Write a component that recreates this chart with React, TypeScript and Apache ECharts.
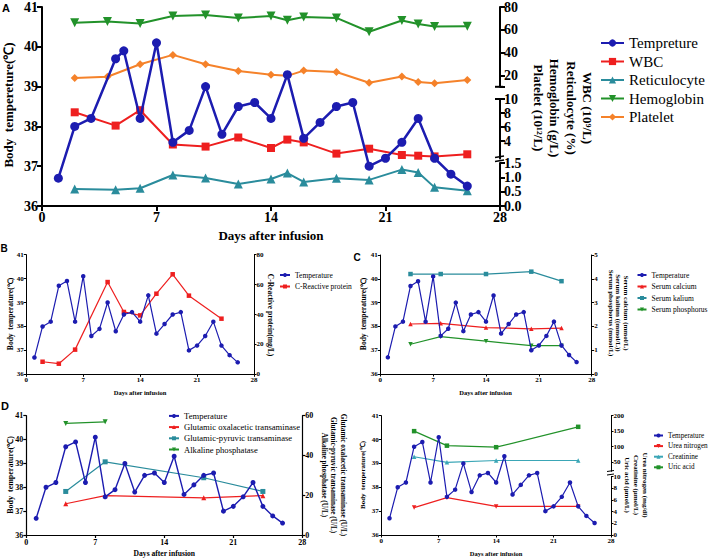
import React, { useEffect, useRef } from "react";
import * as echarts from "echarts";

// ---------- DATA ----------
const days = [1, 2, 3, 4, 5, 6, 7, 8, 9, 10, 11, 12, 13, 14, 15, 16, 17, 18, 19, 20, 21, 22, 23, 24, 25, 26];
const aTempDays = [1, 2, 3, 4.5, 5, 6, 7, 8, 9, 10, 11, 12, 13, 14, 15, 16, 17, 18, 19, 20, 21, 22, 23, 24, 25, 26];
const temperature = [36.7, 38.0, 38.2, 39.7, 39.9, 38.2, 40.1, 37.6, 37.9, 39.0, 37.8, 38.5, 38.6, 38.2, 39.3, 37.7, 38.1, 38.5, 38.6, 37.0, 37.2, 37.6, 38.2, 37.2, 36.8, 36.5];

// Panel A
const aLabDays = [2, 4.5, 6, 8, 10, 12, 14, 15, 16, 18, 20, 22, 23, 24, 26];
const aBloodDays = [2, 4, 6, 8, 10, 12, 14, 15, 16, 18, 20, 22, 23, 24, 26];
const wbc = [8.1, 6.2, 8.4, 3.5, 3.2, 4.5, 3.0, 4.2, 3.8, 2.2, 2.9, 2.0, 1.9, 1.8, 2.1];
const reticulocyte = [0.59, 0.57, 0.62, 1.08, 0.98, 0.77, 0.94, 1.15, 0.84, 0.97, 0.91, 1.27, 1.17, 0.65, 0.53];
const hemoglobin = [66.1, 67.3, 65.6, 72.1, 72.9, 70.4, 72.1, 68.4, 71.2, 70.4, 58.3, 68.2, 65.0, 62.8, 63.1];
const platelet = [17.7, 18.8, 29.8, 38.0, 29.8, 23.9, 20.5, 19.6, 24.2, 23.0, 13.5, 19.1, 14.3, 13.2, 16.0];

// Panel B
const crpDays = [2, 4, 6, 10, 12, 14, 16, 18, 20, 24];
const crp = [8.4, 7.1, 16.5, 61.7, 41.7, 39.4, 53.9, 66.9, 52.6, 37.2];

// Panel C
const electrolyteDays = [4, 8, 14, 20, 24];
const calcium = [2.1, 2.13, 1.95, 1.9, 1.93];
const kalium = [4.2, 4.2, 4.2, 4.3, 3.9];
const phosphorus = [1.25, 1.57, 1.38, 1.19, 1.19];

// Panel D (left)
const liverDays = [4, 8, 18, 24];
const got = [15.7, 19.8, 18.7, 19.8];
const gpt = [21.9, 36.8, 28.8, 21.9];
const alpDays = [4, 8];
const alp = [56.1, 56.9];

// Panel D (right)
const renalDays = [4, 8, 14, 24];
const urea = [4.7, 6.4, 4.9, 4.9];
const creatinine = [67, 49, 55, 55];
const uricAcid = [150, 103, 98, 164];

// Axis ticks
const dayTicks = [0, 7, 14, 21, 28];
const aTopTicks = [20, 40, 60, 80];
const aMidTicks = [2, 4, 6, 8, 10];
const dRightTopTicks = [50, 100, 150, 200];

// ---------- STYLE ----------
const SERIF = "Liberation Serif";
const SANS = "Liberation Sans";
const BLUE = "#1c1cb0";
const RED = "#ee1f1f";
const TEAL = "#2a8c9c";
const CYAN = "#3aa6b6";
const GREEN = "#22922a";
const ORANGE = "#f5822a";
const DOWN = "path://M0,0L10,0L5,8.66Z";

const zip = (xs: number[], ys: number[]) => xs.map((x, i) => [x, ys[i]]);

type St = { fs: number; lw: number; tl: number; m: number };

function xVis(gridIndex: number, st: St) {
  return {
    type: "value", gridIndex, min: 0, max: 28, interval: 7, position: "bottom",
    axisLine: { show: true, onZero: false, lineStyle: { color: "#000", width: st.lw } },
    axisTick: { show: true, length: st.tl, lineStyle: { color: "#000", width: st.lw } },
    axisLabel: { show: true, margin: st.m, fontFamily: SERIF, fontWeight: "bold", fontSize: st.fs, color: "#000",
      customValues: dayTicks },
    splitLine: { show: false },
  };
}
function xHid(gridIndex: number) {
  return { type: "value", gridIndex, min: 0, max: 28, show: false, axisLine: { onZero: false }, splitLine: { show: false } };
}
function yVis(gridIndex: number, position: string, min: number, max: number, st: St, opts: any = {}) {
  const ax: any = {
    type: "value", gridIndex, position, min, max,
    axisLine: { show: true, onZero: false, lineStyle: { color: "#000", width: st.lw } },
    axisTick: { show: true, length: st.tl, lineStyle: { color: "#000", width: st.lw } },
    axisLabel: { show: true, margin: st.m, fontFamily: SERIF, fontWeight: "bold", fontSize: st.fs, color: "#000" },
    splitLine: { show: false },
  };
  if (opts.interval !== undefined) ax.interval = opts.interval;
  if (opts.ticks) {
    ax.axisTick.customValues = opts.ticks;
    ax.axisLabel.customValues = opts.labels || opts.ticks;
  }
  if (opts.formatter) ax.axisLabel.formatter = opts.formatter;
  if (opts.rich) ax.axisLabel.rich = opts.rich;
  return ax;
}

function line(name: string, xi: number, yi: number, xs: number[], ys: number[], color: string, symbol: string, size: number, width: number, z = 2) {
  return {
    type: "line", name, xAxisIndex: xi, yAxisIndex: yi, data: zip(xs, ys),
    symbol, symbolSize: size, showSymbol: true, z,
    lineStyle: { color, width }, itemStyle: { color, borderWidth: 0 },
  };
}

function txt(text: string, x: number, y: number, fs: number, opts: any = {}) {
  return {
    type: "text", x, y, rotation: opts.rot || 0, silent: true,
    style: {
      text, fill: "#000", fontFamily: opts.family || SERIF, fontWeight: opts.weight || "bold", fontSize: fs,
      align: "center", verticalAlign: "middle", lineHeight: opts.lh || fs * 1.15,
    },
  };
}
function seg(x1: number, y1: number, x2: number, y2: number, w = 1.5) {
  return { type: "line", silent: true, shape: { x1, y1, x2, y2 }, style: { stroke: "#000", lineWidth: w } };
}

function buildOption() {
  const grid: any[] = [];
  const xAxis: any[] = [];
  const yAxis: any[] = [];
  const series: any[] = [];
  const addGrid = (left: number, top: number, width: number, height: number) => {
    grid.push({ left, top, width, height, containLabel: false });
    return grid.length - 1;
  };

  // ===== Panel A =====
  const stA: St = { fs: 14, lw: 2, tl: 5, m: 4 };
  const gA = addGrid(42, 5, 458, 201);
  const gA1 = addGrid(42, 4.3, 458, 82.5);
  const gA2 = addGrid(42, 99, 458, 59.5);
  const gA3 = addGrid(42, 163, 458, 43);
  xAxis.push(xVis(gA, stA)); // 0
  xAxis.push(xHid(gA1)); // 1
  xAxis.push(xHid(gA2)); // 2
  xAxis.push(xHid(gA3)); // 3
  yAxis.push(yVis(gA, "left", 36, 41, stA, { interval: 1 })); // 0
  yAxis.push(yVis(gA1, "right", 10, 80, stA, { ticks: [10, ...aTopTicks], labels: aTopTicks })); // 1
  yAxis.push(yVis(gA2, "right", 1.5, 10, stA, {
    ticks: aMidTicks,
    formatter: (v: number) => (v === 2 ? "{s|2}" : String(v)),
    rich: { s: { fontSize: 9, fontWeight: "bold", fontFamily: SERIF, padding: [0, 0, 8, 0] } },
  })); // 2
  yAxis.push(yVis(gA3, "right", 0, 1.5, stA, { interval: 0.5, formatter: (v: number) => v.toFixed(1) })); // 3

  series.push(line("Hemoglobin", 1, 1, aBloodDays, hemoglobin, GREEN, DOWN, 9, 2));
  series.push(line("Platelet", 1, 1, aBloodDays, platelet, ORANGE, "diamond", 8, 2));
  series.push(line("WBC", 2, 2, aLabDays, wbc, RED, "rect", 8, 2));
  series.push(line("Reticulocyte", 3, 3, aLabDays, reticulocyte, TEAL, "triangle", 9, 2));
  series.push(line("Tempreture", 0, 0, aTempDays, temperature, BLUE, "circle", 9, 2.5, 5));

  // ===== Panel B =====
  const stB: St = { fs: 7, lw: 1, tl: 2.5, m: 2.5 };
  const gB = addGrid(26.3, 254.7, 227.7, 119.6);
  const xB = xAxis.push(xVis(gB, stB)) - 1;
  const yB = yAxis.push(yVis(gB, "left", 36, 41, stB, { interval: 1 })) - 1;
  const yB2 = yAxis.push(yVis(gB, "right", 0, 80, stB, { interval: 20 })) - 1;
  series.push(line("C-Reactive protein", xB, yB2, crpDays, crp, RED, "rect", 4.5, 1.2));
  series.push(line("Temperature", xB, yB, days, temperature, BLUE, "circle", 4.5, 1.2, 5));

  // ===== Panel C =====
  const gC = addGrid(380.3, 255, 211.4, 119);
  const xC = xAxis.push(xVis(gC, stB)) - 1;
  const yC = yAxis.push(yVis(gC, "left", 36, 41, stB, { interval: 1 })) - 1;
  const yC2 = yAxis.push(yVis(gC, "right", 0, 5, stB, { interval: 1 })) - 1;
  series.push(line("Serum kalium", xC, yC2, electrolyteDays, kalium, TEAL, "rect", 4.5, 1.2));
  series.push(line("Serum calcium", xC, yC2, electrolyteDays, calcium, RED, "triangle", 4.5, 1.2));
  series.push(line("Serum phosphorus", xC, yC2, electrolyteDays, phosphorus, GREEN, DOWN, 4.5, 1.2));
  series.push(line("Temperature", xC, yC, days, temperature, BLUE, "circle", 4.5, 1.2, 5));

  // ===== Panel D left =====
  const stD: St = { fs: 8, lw: 1.2, tl: 3, m: 3 };
  const gD = addGrid(26.3, 415.7, 276, 119.3);
  const xD = xAxis.push(xVis(gD, stD)) - 1;
  const yD = yAxis.push(yVis(gD, "left", 36, 41, stD, { interval: 1 })) - 1;
  const yD2 = yAxis.push(yVis(gD, "right", 0, 60, stD, { interval: 20 })) - 1;
  series.push(line("Glutamic oxalacetic transaminase", xD, yD2, liverDays, got, RED, "triangle", 5, 1.2));
  series.push(line("Glutamic-pyruvic transaminase", xD, yD2, liverDays, gpt, TEAL, "rect", 5, 1.2));
  series.push(line("Alkaline phosphatase", xD, yD2, alpDays, alp, GREEN, DOWN, 5, 1.2));
  series.push(line("Temperature", xD, yD, days, temperature, BLUE, "circle", 5, 1.4, 5));

  // ===== Panel D right =====
  const stE: St = { fs: 7, lw: 1, tl: 2.5, m: 2.5 };
  const gE = addGrid(381.3, 415.7, 229.7, 119.3);
  const gE1 = addGrid(381.3, 415.7, 229.7, 55.6);
  const gE2 = addGrid(381.3, 476.7, 229.7, 58.3);
  const xE = xAxis.push(xVis(gE, stE)) - 1;
  const xE1 = xAxis.push(xHid(gE1)) - 1;
  const xE2 = xAxis.push(xHid(gE2)) - 1;
  const yE = yAxis.push(yVis(gE, "left", 36, 41, stE, { interval: 1 })) - 1;
  const yE1 = yAxis.push(yVis(gE1, "right", 20, 200, stE, { ticks: dRightTopTicks })) - 1;
  const yE2 = yAxis.push(yVis(gE2, "right", 0, 10, stE, { interval: 2 })) - 1;
  series.push(line("Urea nitrogen", xE2, yE2, renalDays, urea, RED, DOWN, 4.5, 1.2));
  series.push(line("Creatinine", xE1, yE1, renalDays, creatinine, CYAN, "triangle", 4.5, 1.2));
  series.push(line("Uric acid", xE1, yE1, renalDays, uricAcid, GREEN, "rect", 4.5, 1.2));
  series.push(line("Temperature", xE, yE, days, temperature, BLUE, "circle", 4.5, 1.2, 5));

  const legendBase = (left: number, top: number, data: string[], fs: number, gap: number, iw: number, ih: number) => ({
    show: true, orient: "vertical", left, top, data, itemGap: gap, itemWidth: iw, itemHeight: ih,
    selectedMode: false, padding: 0,
    textStyle: { fontFamily: SERIF, fontWeight: "normal", fontSize: fs, color: "#000" },
  });

  const legend = [
    legendBase(600, 35.5, ["Tempreture", "WBC", "Reticulocyte", "Hemoglobin", "Platelet"], 15, 3.5, 23, 9),
    legendBase(279, 271, ["Temperature", "C-Reactive protein"], 7.5, 3.5, 10, 5),
    legendBase(636.5, 271, ["Temperature", "Serum calcium", "Serum kalium", "Serum phosphorus"], 7.5, 3.5, 9, 5),
    legendBase(168, 411.4, ["Temperature", "Glutamic oxalacetic transaminase", "Glutamic-pyruvic transaminase", "Alkaline phosphatase"], 8.6, 2.2, 10, 5),
    legendBase(653, 432, ["Temperature", "Urea nitrogen", "Creatinine", "Uric acid"], 7.2, 3.6, 9, 5),
  ];

  const R = Math.PI / 2;
  const graphic = [
    // Panel labels
    txt("A", 6, 8, 11, { family: SANS }),
    txt("B", 4, 248.5, 10, { family: SANS }),
    txt("C", 357, 257, 10, { family: SANS }),
    txt("D", 5, 406, 11, { family: SANS }),
    // Panel A titles
    txt("Body  tempereture(\u2103)", 8.5, 105, 13, { rot: R }),
    txt("Days after infusion", 271, 235, 13),
    txt("WBC (10\u2079/L)\nReticulocyte (%)\nHemoglobin (g/L)\nPlatelet (10\u00b9\u00b2/L)", 563, 108, 13, { rot: -R, lh: 16.5 }),
    // Panel B titles
    txt("Body  temperature(\u2103)", 10, 314, 7.5, { rot: R }),
    txt("Days after infusion", 140, 392.7, 6.5),
    txt("C-Reactive protein(mg/L)", 270.5, 315, 7.5, { rot: -R }),
    // Panel C titles
    txt("Body  temperature(\u2103)", 363.3, 314, 7.5, { rot: R }),
    txt("Days after infusion", 485.5, 392.7, 6.5),
    txt("Serum calcium (mmol/L)\nSerum kalium ((mmol/L))\nSerum phosphorus (mmol/L)", 618.3, 313, 7, { rot: -R, lh: 7.3 }),
    // Panel D left titles
    txt("Body  temperature(\u2103)", 10, 475, 8, { rot: R }),
    txt("Days after infusion", 164.3, 553.3, 7.6),
    txt("Glutamic oxalacetic transaminase (U/L)\nGlutamic-pyruvic transaminase (U/L)\nAlkaline phosphatase (U/L)", 333, 475, 7.2, { rot: -R, lh: 9.5 }),
    // Panel D right titles
    txt("Body  temperature(\u2103)", 363, 475, 7, { rot: R }),
    txt("Days after infusion", 496, 553, 6.5),
    txt("Urea nitrogen (mg/dl)\nCreatinine (\u03bcmol/L)\nUric acid (\u03bcmol/L)", 635.5, 485, 7, { rot: -R, lh: 9 }),
    // Axis break marks
    seg(495, 86.8, 503, 86.8, 2),
    seg(495, 99, 503, 99, 2),
    seg(495, 157.5, 504, 156, 1.5),
    seg(495, 161.5, 504, 160, 1.5),
    seg(607, 471.5, 614, 470.5, 1),
    seg(607, 475, 614, 474, 1),
  ];

  return {
    animation: false,
    backgroundColor: "#fff",
    textStyle: { fontFamily: SERIF },
    grid, xAxis, yAxis, series, legend, graphic,
  };
}

export default function App() {
  const ref = useRef<HTMLDivElement>(null);
  useEffect(() => {
    if (!ref.current) return;
    const chart = echarts.init(ref.current, null, { renderer: "svg" });
    chart.setOption(buildOption() as any);
    return () => chart.dispose();
  }, []);
  return (
    <div
      ref={ref}
      style={{ position: "fixed", left: 0, top: 0, width: 709, height: 558, background: "#fff" }}
    />
  );
}
